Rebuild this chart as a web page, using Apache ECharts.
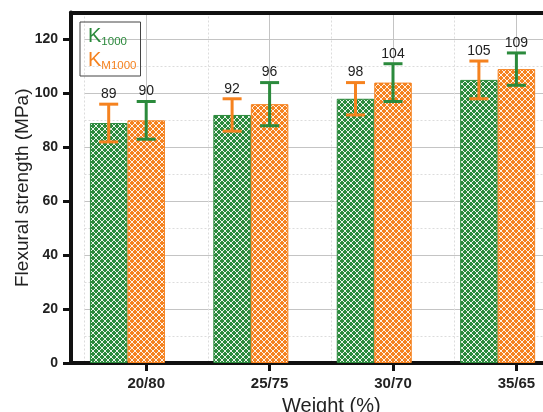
<!DOCTYPE html>
<html>
<head>
<meta charset="utf-8">
<script src="https://cdn.jsdelivr.net/npm/echarts@6/dist/echarts.min.js"></script>
<style>
html,body{margin:0;padding:0;background:#fff;}
#chart{width:543px;height:412px;}
</style>
</head>
<body>
<div id="chart"></div>
<script>
// ---- data ----
var categories = ['20/80', '25/75', '30/70', '35/65'];
var k1000 = [89, 92, 98, 105];
var km1000 = [90, 96, 104, 109];
var k1000Err = [[82, 96], [86, 98], [92, 104], [98, 112]];
var km1000Err = [[83, 97], [88, 104], [97, 111], [103, 115]];
var yMax = 130;
var yLabelMax = 120;
var yStep = 20;

// ---- styles ----
var GREEN = '#2b8a3c';
var ORANGE = '#f5821f';
var BAR_W = 37.5;

function makePattern(color) {
  var s = 6;
  var c = document.createElement('canvas');
  c.width = s; c.height = s;
  var ctx = c.getContext('2d');
  ctx.fillStyle = color;
  ctx.fillRect(0, 0, s, s);
  ctx.strokeStyle = '#ffffff';
  ctx.lineWidth = 0.9;
  ctx.beginPath();
  ctx.moveTo(-1, -1); ctx.lineTo(s + 1, s + 1);
  ctx.moveTo(s + 1, -1); ctx.lineTo(-1, s + 1);
  ctx.stroke();
  return { image: c, repeat: 'repeat' };
}

function errData(values, errs) {
  return values.map(function (v, i) { return [i, errs[i][0], errs[i][1], v]; });
}

function errRender(offset, color) {
  return function (params, api) {
    var idx = api.value(0);
    var x = api.coord([idx, 0])[0] + offset;
    var yLo = api.coord([idx, api.value(1)])[1];
    var yHi = api.coord([idx, api.value(2)])[1];
    var st = { stroke: color, lineWidth: 3 };
    return {
      type: 'group',
      children: [
        { type: 'line', shape: { x1: x, y1: yLo, x2: x, y2: yHi }, style: st },
        { type: 'line', shape: { x1: x - 9.5, y1: yHi, x2: x + 9.5, y2: yHi }, style: st },
        { type: 'line', shape: { x1: x - 9.5, y1: yLo, x2: x + 9.5, y2: yLo }, style: st },
        { type: 'text', style: { text: String(api.value(3)), x: x, y: yHi - 3,
            align: 'center', verticalAlign: 'bottom',
            font: '14px "Liberation Sans", Arial, sans-serif', fill: '#222' } }
      ]
    };
  };
}

var chart = echarts.init(document.getElementById('chart'), null, { renderer: 'canvas' });
var GR = -35.1;
var TOP = 12.5, BOTTOM = 49;
var unit = (412 - TOP - BOTTOM) / yMax;
var FONT = '"Liberation Sans", Arial, sans-serif';

chart.setOption({
  animation: false,
  backgroundColor: '#fff',
  textStyle: { fontFamily: FONT },
  grid: [
    { left: 84.5, right: GR, top: TOP, bottom: BOTTOM, containLabel: false, outerBoundsMode: 'none' },
    { left: 71, right: GR, top: TOP + (yMax - yLabelMax) * unit, bottom: BOTTOM, containLabel: false, outerBoundsMode: 'none' },
    { left: 71, right: GR, top: TOP, bottom: BOTTOM, containLabel: false, outerBoundsMode: 'none' }
  ],
  legend: {
    orient: 'vertical', left: 80, top: 22,
    borderColor: '#444', borderWidth: 1,
    padding: [4, 4, 4, 2], itemGap: 2,
    itemWidth: 0, itemHeight: 0,
    data: [
      { name: 'K1000', textStyle: { color: GREEN } },
      { name: 'KM1000', textStyle: { color: ORANGE } }
    ],
    formatter: function (name) {
      return name === 'K1000' ? '{k|K}{s|1000}' : '{k|K}{s|M1000}';
    },
    textStyle: {
      rich: {
        k: { fontSize: 20, lineHeight: 24, fontFamily: FONT },
        s: { fontSize: 11.5, lineHeight: 12, verticalAlign: 'bottom', fontFamily: FONT }
      }
    }
  },
  xAxis: [
    { gridIndex: 0, type: 'category', data: categories, position: 'bottom',
      axisLine: { show: true, lineStyle: { color: '#111', width: 4 } },
      axisTick: { show: true, alignWithLabel: true, length: 8, lineStyle: { color: '#111', width: 3 } },
      axisLabel: { fontWeight: 'bold', fontSize: 15, color: '#222', margin: 13, fontFamily: FONT },
      splitLine: { show: true, lineStyle: { color: '#dcdcdc', width: 1, type: [2, 2] } },
      name: 'Weight (%)', nameLocation: 'middle', nameGap: 33,
      nameTextStyle: { fontSize: 20, color: '#222', fontFamily: FONT } },
    { gridIndex: 0, type: 'value', min: 0, max: 4, interval: 1, position: 'top',
      axisLine: { show: false }, axisTick: { show: false }, axisLabel: { show: false },
      splitLine: { show: false },
      minorTick: { show: false, splitNumber: 2 },
      minorSplitLine: { show: true, lineStyle: { color: '#c4c4c4', width: 1 } } },
    { gridIndex: 1, type: 'value', show: false },
    { gridIndex: 2, type: 'value', min: 0, max: 1, position: 'bottom',
      axisLine: { show: true, lineStyle: { color: '#111', width: 4 } },
      axisTick: { show: false }, axisLabel: { show: false }, splitLine: { show: false } },
    { gridIndex: 2, type: 'value', min: 0, max: 1, position: 'top',
      axisLine: { show: true, lineStyle: { color: '#111', width: 4 } },
      axisTick: { show: false }, axisLabel: { show: false }, splitLine: { show: false } }
  ],
  yAxis: [
    { gridIndex: 0, type: 'value', min: 0, max: yMax, interval: yStep / 2,
      axisLine: { show: false }, axisTick: { show: false }, axisLabel: { show: false },
      splitLine: { show: true, lineStyle: { color: '#dcdcdc', width: 1, type: [2, 2] } } },
    { gridIndex: 0, type: 'value', min: 0, max: yMax, interval: yStep, position: 'right',
      axisLine: { show: false }, axisTick: { show: false }, axisLabel: { show: false },
      splitLine: { show: true, lineStyle: { color: '#c4c4c4', width: 1 } } },
    { gridIndex: 1, type: 'value', min: 0, max: yLabelMax, interval: yStep,
      axisLine: { show: false },
      axisTick: { show: true, length: 8, lineStyle: { color: '#111', width: 3 } },
      axisLabel: { fontWeight: 'bold', fontSize: 14, color: '#222', margin: 13, fontFamily: FONT },
      splitLine: { show: false } },
    { gridIndex: 2, type: 'value', min: 0, max: 1,
      axisLine: { show: true, lineStyle: { color: '#111', width: 4 } },
      axisTick: { show: false }, axisLabel: { show: false }, splitLine: { show: false },
      name: 'Flexural strength (MPa)', nameLocation: 'middle', nameGap: 39,
      nameTextStyle: { fontSize: 19, color: '#222', fontFamily: FONT } }
  ],
  series: [
    { name: 'K1000', type: 'bar', xAxisIndex: 0, yAxisIndex: 0, data: k1000,
      barWidth: BAR_W, barGap: '0%',
      itemStyle: { color: makePattern(GREEN), borderColor: GREEN, borderWidth: 1 } },
    { name: 'KM1000', type: 'bar', xAxisIndex: 0, yAxisIndex: 0, data: km1000,
      barWidth: BAR_W, barGap: '0%',
      itemStyle: { color: makePattern(ORANGE), borderColor: ORANGE, borderWidth: 1 } },
    { name: 'slot', type: 'bar', xAxisIndex: 0, yAxisIndex: 0,
      data: categories.map(function () { return '-'; }),
      barWidth: BAR_W, barGap: '0%', silent: true },
    { name: 'K1000 err', type: 'custom', xAxisIndex: 0, yAxisIndex: 0,
      data: errData(k1000, k1000Err), renderItem: errRender(-BAR_W, ORANGE), z: 5 },
    { name: 'KM1000 err', type: 'custom', xAxisIndex: 0, yAxisIndex: 0,
      data: errData(km1000, km1000Err), renderItem: errRender(0, GREEN), z: 5 }
  ]
});
</script>
</body>
</html>
